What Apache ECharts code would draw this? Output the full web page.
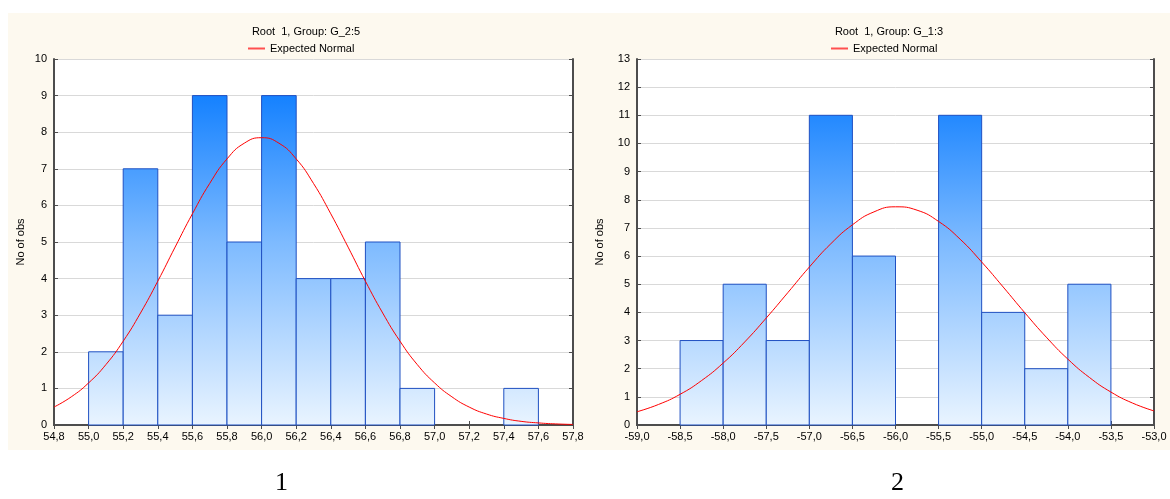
<!DOCTYPE html>
<html>
<head>
<meta charset="utf-8">
<script src="https://cdn.jsdelivr.net/npm/echarts@6/dist/echarts.min.js"></script>
<style>
html,body{margin:0;padding:0;background:#fff;}
#main{width:1170px;height:499px;}
</style>
</head>
<body>
<div id="main"></div>
<script>
// ---------- data ----------
const titles = ['Root  1, Group: G_2:5', 'Root  1, Group: G_1:3'];
const legendName = 'Expected Normal';
const yAxisName = 'No of obs';
const panelLabels = ['1', '2'];

// Chart 1 histogram (bin start, bin end, count)
const g1BinStart = [55.0, 55.2, 55.4, 55.6, 55.8, 56.0, 56.2, 56.4, 56.6, 56.8, 57.0, 57.2, 57.4];
const g1BinEnd   = [55.2, 55.4, 55.6, 55.8, 56.0, 56.2, 56.4, 56.6, 56.8, 57.0, 57.2, 57.4, 57.6];
const g1Counts   = [2, 7, 3, 9, 5, 9, 4, 4, 5, 1, 0, 0, 1];
// Chart 1 expected normal curve
const g1CurveX = [54.8, 54.9, 55.0, 55.1, 55.2, 55.3, 55.4, 55.5, 55.6, 55.7, 55.8, 55.9, 56.0, 56.1, 56.2, 56.3, 56.4, 56.5, 56.6, 56.7, 56.8, 56.9, 57.0, 57.1, 57.2, 57.3, 57.4, 57.5, 57.6, 57.7, 57.8];
const g1CurveY = [0.49, 0.77, 1.15, 1.65, 2.29, 3.06, 3.93, 4.86, 5.77, 6.60, 7.27, 7.70, 7.85, 7.70, 7.27, 6.60, 5.77, 4.86, 3.93, 3.06, 2.29, 1.65, 1.15, 0.77, 0.49, 0.30, 0.18, 0.10, 0.057, 0.03, 0.015];
const g1XTicks = ['54,8','55,0','55,2','55,4','55,6','55,8','56,0','56,2','56,4','56,6','56,8','57,0','57,2','57,4','57,6','57,8'];

// Chart 2 histogram
const g2BinStart = [-58.5, -58.0, -57.5, -57.0, -56.5, -56.0, -55.5, -55.0, -54.5, -54.0];
const g2BinEnd   = [-58.0, -57.5, -57.0, -56.5, -56.0, -55.5, -55.0, -54.5, -54.0, -53.5];
const g2Counts   = [3, 5, 3, 11, 6, 0, 11, 4, 2, 5];
const g2CurveX = [-59.0, -58.75, -58.5, -58.25, -58.0, -57.75, -57.5, -57.25, -57.0, -56.75, -56.5, -56.25, -56.0, -55.75, -55.5, -55.25, -55.0, -54.75, -54.5, -54.25, -54.0, -53.75, -53.5, -53.25, -53.0];
const g2CurveY = [0.47, 0.73, 1.09, 1.58, 2.20, 2.95, 3.80, 4.70, 5.61, 6.44, 7.11, 7.57, 7.75, 7.63, 7.23, 6.60, 5.79, 4.90, 3.99, 3.12, 2.34, 1.69, 1.17, 0.78, 0.50];
const g2XTicks = ['-59,0','-58,5','-58,0','-57,5','-57,0','-56,5','-56,0','-55,5','-55,0','-54,5','-54,0','-53,5','-53,0'];

// ---------- chart ----------
const chart = echarts.init(document.getElementById('main'), null, {renderer: 'canvas'});
const FONT = 'Liberation Sans, Arial, sans-serif';
const axisColor = '#4d4d4d';

const barFill = new echarts.graphic.LinearGradient(0, 59, 0, 425, [
  {offset: 0, color: '#0077ff'},
  {offset: 0.12, color: '#1a84ff'},
  {offset: 0.5, color: '#7dbaff'},
  {offset: 1, color: '#e9f4ff'}
], true);

function histData(starts, ends, counts) {
  return starts.map((s, i) => [s, ends[i], counts[i]]);
}
function curveData(xs, ys) { return xs.map((x, i) => [x, ys[i]]); }

function renderBar(params, api) {
  const x0 = api.value(0), x1 = api.value(1), y = api.value(2);
  if (!y) return null;
  const p0 = api.coord([x0, y]);
  const p1 = api.coord([x1, 0]);
  return {
    type: 'rect',
    shape: {x: p0[0], y: p0[1], width: p1[0] - p0[0], height: p1[1] - p0[1]},
    style: {fill: barFill, stroke: '#1f50c2', lineWidth: 1}
  };
}

function tickFmt(arr, min, step) {
  return function (v) {
    const i = Math.round((v - min) / step);
    return arr[i] !== undefined ? arr[i] : '';
  };
}

const grids = [
  {left: 54, top: 59, width: 519, height: 366, show: true, backgroundColor: '#ffffff', borderWidth: 0},
  {left: 637, top: 59, width: 517, height: 366, show: true, backgroundColor: '#ffffff', borderWidth: 0}
];

const axLine = {show: true, lineStyle: {color: axisColor, width: 2}};
const axTick = {show: true, inside: true, length: 4, lineStyle: {color: axisColor, width: 1}};
const lbl = {color: '#000', fontFamily: FONT, fontSize: 11};

function xAxes(gi, min, max, interval, ticks) {
  return [
    {type: 'value', gridIndex: gi, min: min, max: max, interval: interval, position: 'bottom',
     axisLine: axLine, axisTick: axTick, splitLine: {show: false},
     axisLabel: Object.assign({margin: 6, formatter: tickFmt(ticks, min, interval)}, lbl)},
    {type: 'value', gridIndex: gi, min: min, max: max, interval: interval, position: 'top',
     axisLine: axLine, axisTick: axTick, splitLine: {show: false}, axisLabel: {show: false}}
  ];
}
function yAxes(gi, max, gap) {
  return [
    {type: 'value', gridIndex: gi, min: 0, max: max, interval: 1, position: 'left',
     name: yAxisName, nameLocation: 'middle', nameGap: gap, nameRotate: 90,
     nameTextStyle: {color: '#000', fontFamily: FONT, fontSize: 11},
     axisLine: axLine, axisTick: axTick,
     splitLine: {show: true, lineStyle: {color: '#d9d9d9', width: 1}},
     axisLabel: Object.assign({margin: 7}, lbl)},
    {type: 'value', gridIndex: gi, min: 0, max: max, interval: 1, position: 'right',
     axisLine: axLine, axisTick: axTick, splitLine: {show: false}, axisLabel: {show: false}}
  ];
}

const option = {
  animation: false,
  backgroundColor: '#ffffff',
  graphic: [
    {type: 'rect', left: 8, top: 13, shape: {width: 1162, height: 437}, style: {fill: '#fdf9ef'}, z: -10, silent: true},
    {type: 'text', left: 275, top: 470, style: {text: panelLabels[0], font: '26px "Liberation Serif", "DejaVu Serif", serif', fill: '#000'}},
    {type: 'text', left: 891, top: 470, style: {text: panelLabels[1], font: '26px "Liberation Serif", "DejaVu Serif", serif', fill: '#000'}}
  ],
  title: [
    {text: titles[0], left: 301, top: 21, textAlign: 'center',
     textStyle: {fontFamily: FONT, fontSize: 11, fontWeight: 'normal', color: '#000'}},
    {text: titles[1], left: 884, top: 21, textAlign: 'center',
     textStyle: {fontFamily: FONT, fontSize: 11, fontWeight: 'normal', color: '#000'}}
  ],
  legend: [
    {data: [{name: legendName, icon: 'rect'}], left: 243, top: 38, itemWidth: 17, itemHeight: 2, itemGap: 5,
     textStyle: {fontFamily: FONT, fontSize: 11, color: '#000'}, selectedMode: false},
    {data: [{name: legendName, icon: 'rect'}], left: 826, top: 38, itemWidth: 17, itemHeight: 2, itemGap: 5,
     textStyle: {fontFamily: FONT, fontSize: 11, color: '#000'}, selectedMode: false}
  ],
  grid: grids,
  xAxis: xAxes(0, 54.8, 57.8, 0.2, g1XTicks).concat(xAxes(1, -59, -53, 0.5, g2XTicks)),
  yAxis: yAxes(0, 10, 28).concat(yAxes(1, 13, 32)),
  series: [
    {type: 'custom', name: 'hist1', xAxisIndex: 0, yAxisIndex: 0, renderItem: renderBar,
     data: histData(g1BinStart, g1BinEnd, g1Counts), encode: {x: [0, 1], y: 2}, z: 2},
    {type: 'line', name: legendName, xAxisIndex: 0, yAxisIndex: 0, data: curveData(g1CurveX, g1CurveY),
     smooth: true, showSymbol: false, lineStyle: {color: '#ff0000', width: 1}, itemStyle: {color: '#ff5050'}, z: 3},
    {type: 'custom', name: 'hist2', xAxisIndex: 2, yAxisIndex: 2, renderItem: renderBar,
     data: histData(g2BinStart, g2BinEnd, g2Counts), encode: {x: [0, 1], y: 2}, z: 2},
    {type: 'line', name: legendName, xAxisIndex: 2, yAxisIndex: 2, data: curveData(g2CurveX, g2CurveY),
     smooth: true, showSymbol: false, lineStyle: {color: '#ff0000', width: 1}, itemStyle: {color: '#ff5050'}, z: 3}
  ]
};
chart.setOption(option);
</script>
</body>
</html>
